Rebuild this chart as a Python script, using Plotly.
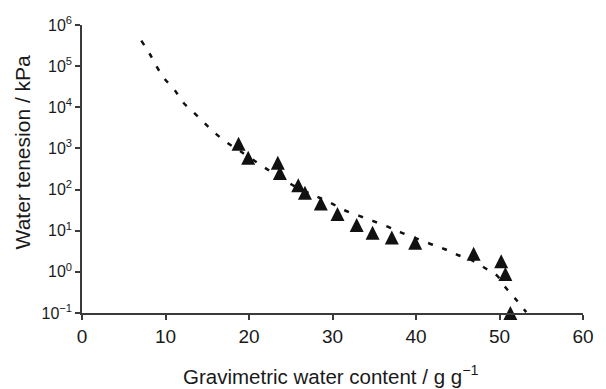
import plotly.graph_objects as go

# Measured data (triangles)
obs_water = [18.75, 19.9, 23.45, 23.7, 25.9, 26.7, 28.6, 30.6, 32.9, 34.8, 37.1, 39.9, 46.9, 50.2, 50.7, 51.3]
obs_tension = [1300, 594, 450, 252, 127, 84, 46, 25.6, 13.7, 8.9, 6.8, 5.1, 2.76, 1.8, 0.89, 0.1]

# Fitted curve (dotted line)
fit_water = [7.1, 8.1, 9.0, 9.9, 11.1, 12.1, 13.4, 14.6, 15.9, 17.3, 18.9, 21.9, 25.2, 28.1, 29.8,
             31.5, 33.2, 34.8, 36.6, 38.3, 41.6, 43.4, 45.0, 46.6, 48.2, 49.7, 50.8, 52.0, 53.2]
fit_tension = [417000, 200000, 93000, 49000, 26300, 13200, 7400, 4270, 2400, 1410, 870, 339, 129, 68, 47,
               31, 23, 17.4, 12.6, 8.9, 4.9, 3.6, 2.57, 1.95, 1.26, 0.81, 0.40, 0.21, 0.105]

x_ticks = [0, 10, 20, 30, 40, 50, 60]
y_tickvals = [0.1, 1, 10, 100, 1000, 10000, 100000, 1000000]
y_ticktext = ["10<sup>−1</sup>", "10<sup>0</sup>", "10<sup>1</sup>", "10<sup>2</sup>",
              "10<sup>3</sup>", "10<sup>4</sup>", "10<sup>5</sup>", "10<sup>6</sup>"]

FONT = "Liberation Sans, Arial, sans-serif"
AX = "#3a3a3a"

fig = go.Figure()
fig.add_trace(go.Scatter(
    x=fit_water, y=fit_tension, mode="lines", line_shape="spline",
    line=dict(color="#111111", width=2.5, dash="5px,10px"),
    hoverinfo="skip", showlegend=False, cliponaxis=False))
fig.add_trace(go.Scatter(
    x=obs_water, y=obs_tension, mode="markers",
    marker=dict(symbol="arrow-down", angle=180, standoff=7, size=14, color="#111111",
                line=dict(width=0)),
    showlegend=False, cliponaxis=False))

fig.update_layout(
    width=606, height=389,
    margin=dict(l=82, r=13, t=25, b=76),
    paper_bgcolor="white", plot_bgcolor="white",
    font=dict(family=FONT, color="#1a1a1a"),
    xaxis=dict(range=[0, 60], tickvals=x_ticks, showgrid=False, zeroline=False,
               showline=True, linecolor=AX, linewidth=1.5,
               ticks="outside", ticklen=5, tickcolor=AX, tickwidth=1.5,
               tickfont=dict(size=19, family=FONT, color="#1a1a1a")),
    yaxis=dict(type="log", range=[-1, 6], tickvals=y_tickvals, ticktext=y_ticktext,
               showgrid=False, zeroline=False,
               showline=True, linecolor=AX, linewidth=1.5,
               ticks="outside", ticklen=5, tickcolor=AX, tickwidth=1.5,
               tickfont=dict(size=16, family=FONT, color="#1a1a1a")),
    annotations=[
        dict(text="Gravimetric water content / g g<sup>−1</sup>", xref="paper", yref="paper",
             x=0.498, y=-0.216, xanchor="center", yanchor="middle", showarrow=False,
             font=dict(size=20.5, family=FONT, color="#1a1a1a")),
        dict(text="Water tenesion / kPa", xref="paper", yref="paper",
             x=-0.119, y=0.559, xanchor="center", yanchor="middle", textangle=-90,
             showarrow=False, font=dict(size=21, family=FONT, color="#1a1a1a")),
    ],
)

fig.write_html("out.html")
